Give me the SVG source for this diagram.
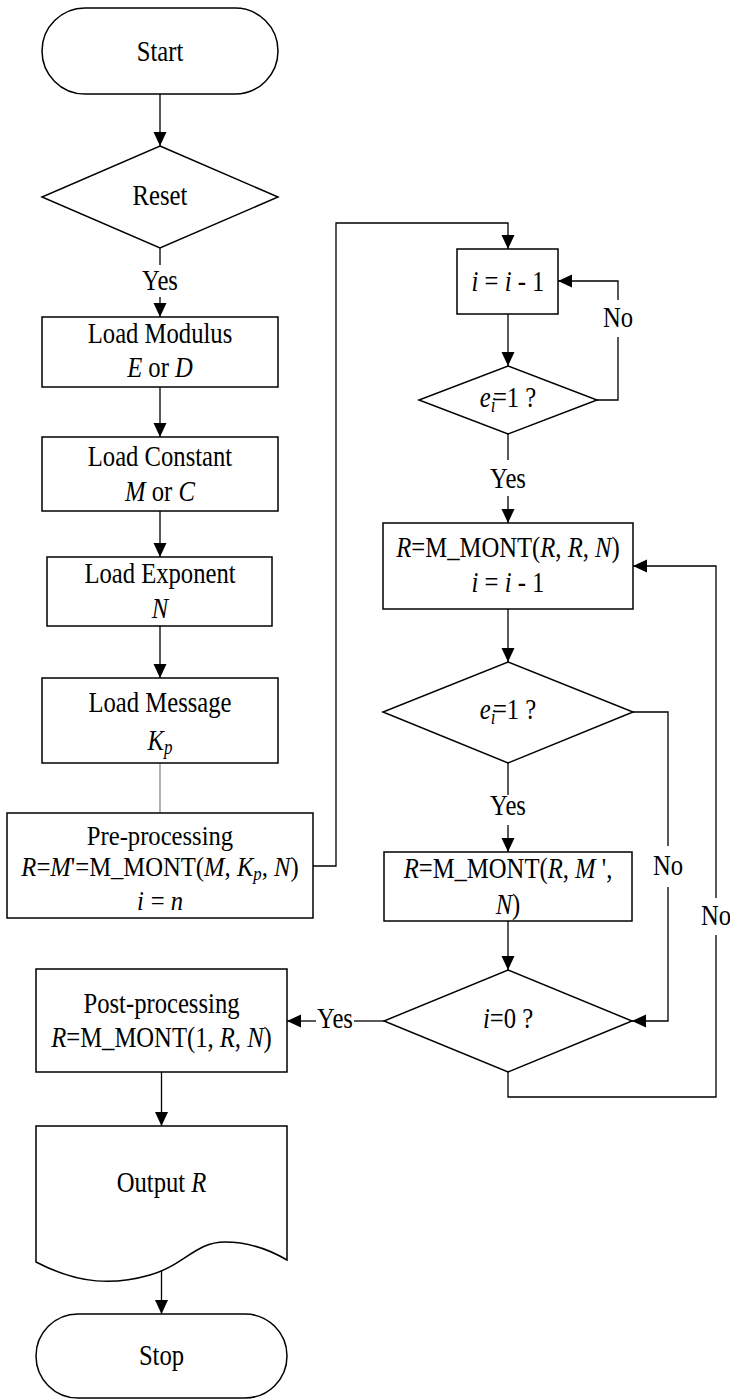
<svg xmlns="http://www.w3.org/2000/svg" width="730" height="1400" viewBox="0 0 730 1400">
<style>
.s{fill:#fff;stroke:#000;stroke-width:1.5}
.c{fill:none;stroke:#000;stroke-width:1.3}
.g{fill:none;stroke:#888;stroke-width:1.3}
.t{font-family:"Liberation Serif","Times New Roman",serif;font-size:29px;fill:#000;text-anchor:middle}
.t2{font-size:28px}
.i{font-style:italic}
</style>
<defs>
<marker id="ah" markerUnits="userSpaceOnUse" markerWidth="15" markerHeight="14" refX="14" refY="6.5" orient="auto">
<path d="M0,0 L14,6.5 L0,13 z" fill="#000"/>
</marker>
</defs>
<rect width="730" height="1400" fill="#fff"/>

<g id="connectors">
<line class="c" x1="160" y1="94" x2="160" y2="146" marker-end="url(#ah)"/>
<line class="c" x1="160" y1="248" x2="160" y2="265"/>
<line class="c" x1="160" y1="297" x2="160" y2="317" marker-end="url(#ah)"/>
<line class="c" x1="160" y1="387" x2="160" y2="437" marker-end="url(#ah)"/>
<line class="c" x1="160" y1="511" x2="160" y2="557" marker-end="url(#ah)"/>
<line class="c" x1="160" y1="626" x2="160" y2="678" marker-end="url(#ah)"/>
<line class="g" x1="160" y1="763" x2="160" y2="813"/>
<polyline class="c" points="313,866 336,866 336,223 508,223 508,249" marker-end="url(#ah)"/>
<line class="c" x1="508" y1="314" x2="508" y2="366" marker-end="url(#ah)"/>
<polyline class="c" points="597,400 618,400 618,337"/>
<polyline class="c" points="618,300 618,281 558,281" marker-end="url(#ah)"/>
<line class="c" x1="508" y1="434" x2="508" y2="460"/>
<line class="c" x1="508" y1="496" x2="508" y2="523" marker-end="url(#ah)"/>
<line class="c" x1="508" y1="609" x2="508" y2="662" marker-end="url(#ah)"/>
<polyline class="c" points="633,712 668,712 668,846"/>
<polyline class="c" points="668,887 668,1021 632,1021" marker-end="url(#ah)"/>
<line class="c" x1="508" y1="763" x2="508" y2="795"/>
<line class="c" x1="508" y1="825" x2="508" y2="852" marker-end="url(#ah)"/>
<line class="c" x1="508" y1="921" x2="508" y2="970" marker-end="url(#ah)"/>
<line class="c" x1="384" y1="1021" x2="354" y2="1021"/>
<line class="c" x1="316" y1="1021" x2="287" y2="1021" marker-end="url(#ah)"/>
<polyline class="c" points="508,1072 508,1097 716,1097 716,935"/>
<polyline class="c" points="716,898 716,566 633,566" marker-end="url(#ah)"/>
<line class="c" x1="161.5" y1="1072" x2="161.5" y2="1126" marker-end="url(#ah)"/>
<line class="c" x1="161.5" y1="1263" x2="161.5" y2="1314" marker-end="url(#ah)"/>
<text class="t" transform="translate(160,290) scale(0.85,1)">Yes</text>
<text class="t" transform="translate(618,327) scale(0.85,1)">No</text>
<text class="t" transform="translate(508,488) scale(0.85,1)">Yes</text>
<text class="t" transform="translate(668,875) scale(0.85,1)">No</text>
<text class="t" transform="translate(508,815) scale(0.85,1)">Yes</text>
<text class="t" transform="translate(716,925) scale(0.85,1)">No</text>
<text class="t" transform="translate(335,1028) scale(0.85,1)">Yes</text>
</g>

<g id="start">
<rect class="s" x="42" y="8" width="236" height="86" rx="43" ry="43"/>
<text class="t" transform="translate(160,61) scale(0.85,1)">Start</text>
</g>

<g id="reset">
<polygon class="s" points="160,146 278,197 160,248 42,197"/>
<text class="t" transform="translate(160,205) scale(0.85,1)">Reset</text>
</g>

<g id="load-modulus">
<rect class="s" x="42" y="317" width="236" height="70"/>
<text class="t" transform="translate(160,343) scale(0.85,1)">Load Modulus</text>
<text class="t" transform="translate(160,377) scale(0.85,1)"><tspan class="i">E</tspan> or <tspan class="i">D</tspan></text>
</g>

<g id="load-constant">
<rect class="s" x="42" y="437" width="236" height="74"/>
<text class="t" transform="translate(160,466) scale(0.85,1)">Load Constant</text>
<text class="t" transform="translate(160,501) scale(0.85,1)"><tspan class="i">M</tspan> or <tspan class="i">C</tspan></text>
</g>

<g id="load-exponent">
<rect class="s" x="47" y="557" width="225" height="69"/>
<text class="t" transform="translate(160,583) scale(0.85,1)">Load Exponent</text>
<text class="t" transform="translate(160,618) scale(0.85,1)"><tspan class="i">N</tspan></text>
</g>

<g id="load-message">
<rect class="s" x="42" y="678" width="236" height="85"/>
<text class="t" transform="translate(160,712) scale(0.85,1)">Load Message</text>
<text class="t" transform="translate(160,750) scale(0.85,1)"><tspan class="i">K</tspan><tspan class="i" font-size="20" dy="4">p</tspan></text>
</g>

<g id="pre-processing">
<rect class="s" x="7" y="813" width="306" height="105"/>
<text class="t t2" transform="translate(160,845) scale(0.88,1)">Pre-processing</text>
<text class="t t2" transform="translate(160,876) scale(0.88,1)"><tspan class="i">R</tspan>=<tspan class="i">M</tspan>'=M_MONT(<tspan class="i">M</tspan>, <tspan class="i">K</tspan><tspan class="i" font-size="19" dy="4">p</tspan><tspan dy="-4">, </tspan><tspan class="i">N</tspan>)</text>
<text class="t t2" transform="translate(160,910) scale(0.88,1)"><tspan class="i">i</tspan><tspan dx="8">= </tspan><tspan class="i">n</tspan></text>
</g>

<g id="dec-i">
<rect class="s" x="457" y="249" width="101" height="65"/>
<text class="t" transform="translate(508,291) scale(0.85,1)"><tspan class="i">i</tspan> = <tspan class="i">i</tspan> - 1</text>
</g>

<g id="check-ei-1">
<polygon class="s" points="508,366 597,400 508,434 419,400"/>
<text class="t" transform="translate(508,407) scale(0.85,1)"><tspan class="i">e</tspan><tspan class="i" font-size="20" dy="5">i</tspan><tspan dx="-3" dy="-5">=1 ?</tspan></text>
</g>

<g id="square">
<rect class="s" x="383" y="523" width="250" height="86"/>
<text class="t" transform="translate(508,557) scale(0.85,1)"><tspan class="i">R</tspan>=M_MONT(<tspan class="i">R</tspan>, <tspan class="i">R</tspan>, <tspan class="i">N</tspan>)</text>
<text class="t" transform="translate(508,592) scale(0.85,1)"><tspan class="i">i</tspan> = <tspan class="i">i</tspan> - 1</text>
</g>

<g id="check-ei-2">
<polygon class="s" points="508,662 633,712 508,763 383,712"/>
<text class="t" transform="translate(508,719) scale(0.85,1)"><tspan class="i">e</tspan><tspan class="i" font-size="20" dy="5">i</tspan><tspan dx="-3" dy="-5">=1 ?</tspan></text>
</g>

<g id="multiply">
<rect class="s" x="384" y="852" width="248" height="69"/>
<text class="t" transform="translate(508,878) scale(0.85,1)"><tspan class="i">R</tspan>=M_MONT(<tspan class="i">R</tspan>, <tspan class="i">M</tspan> ',</text>
<text class="t" transform="translate(508,914) scale(0.85,1)"><tspan class="i">N</tspan>)</text>
</g>

<g id="check-i-0">
<polygon class="s" points="508,970 632,1021 508,1072 384,1021"/>
<text class="t" transform="translate(508,1028) scale(0.85,1)"><tspan class="i">i</tspan>=0 ?</text>
</g>

<g id="post-processing">
<rect class="s" x="36" y="969" width="251" height="103"/>
<text class="t" transform="translate(161.5,1013) scale(0.85,1)">Post-processing</text>
<text class="t" transform="translate(161.5,1047) scale(0.85,1)"><tspan class="i">R</tspan>=M_MONT(1, <tspan class="i">R</tspan>, <tspan class="i">N</tspan>)</text>
</g>

<g id="output">
<path class="s" d="M36,1126 H287 V1260 C270,1250 250,1242 225,1242 C195,1242 185,1265 150,1275 C115,1285 80,1285 36,1262 Z"/>
<text class="t" transform="translate(161.5,1192) scale(0.85,1)">Output <tspan class="i">R</tspan></text>
</g>

<g id="stop">
<rect class="s" x="36" y="1314" width="251" height="84" rx="42" ry="42"/>
<text class="t" transform="translate(161.5,1365) scale(0.85,1)">Stop</text>
</g>
</svg>
